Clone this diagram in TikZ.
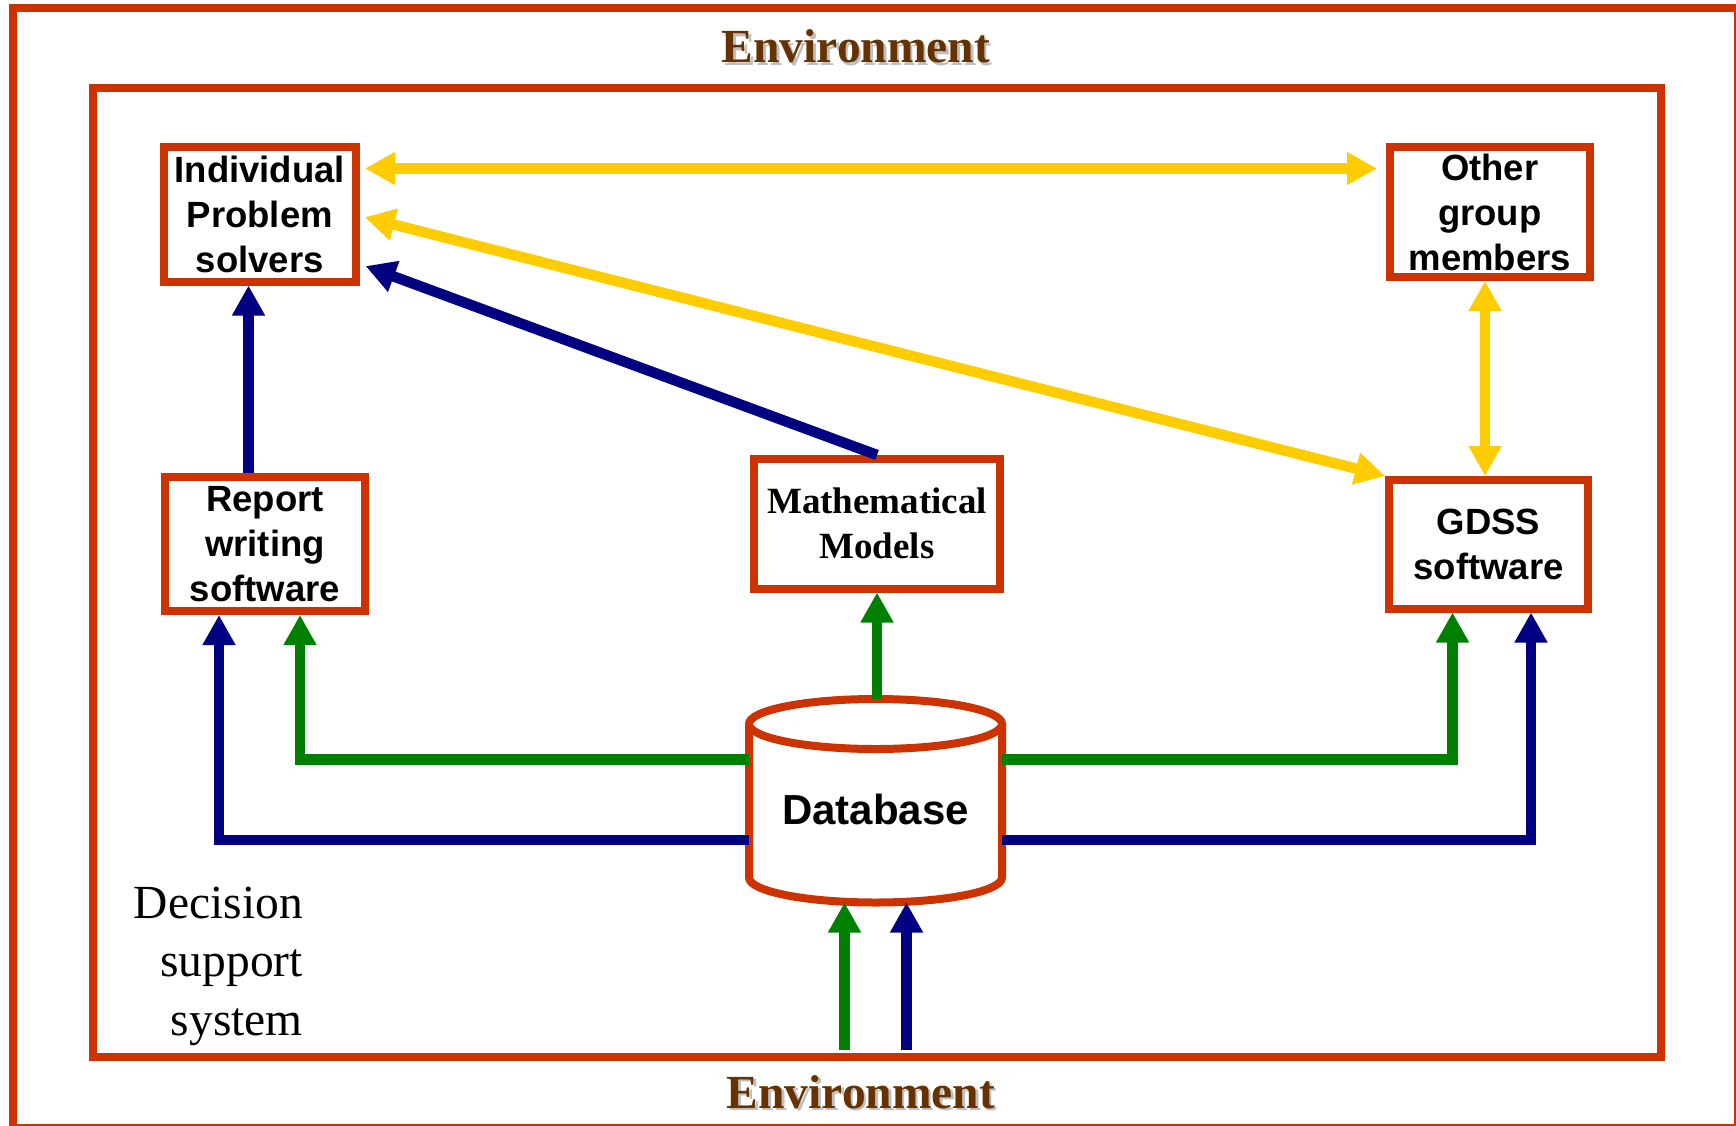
\documentclass[tikz,border=0pt]{standalone}
\usepackage{fontspec}
\setmainfont{Liberation Serif}
\setsansfont{Liberation Sans}
\usepackage{tikz}
\usetikzlibrary{arrows.meta,calc}

\definecolor{framered}{RGB}{204,51,0}
\definecolor{envbrown}{RGB}{102,51,0}
\definecolor{infoyellow}{RGB}{255,204,0}
\definecolor{datanavy}{RGB}{0,0,128}
\definecolor{datagreen}{RGB}{0,128,0}

\newcommand{\shadowed}[1]{% text with a grey drop shadow
  \makebox[0pt][l]{\hspace{2.5pt}\raisebox{-2.5pt}{\color{black!25}#1}}#1}

\tikzset{
  box/.style={draw=framered,line width=8pt,inner sep=0pt,align=center,
    font=\sffamily\bfseries\fontsize{36.5}{45}\selectfont},
  frame/.style={draw=framered,line width=8pt},
  envlabel/.style={text=envbrown,inner sep=0pt,font=\bfseries\fontsize{47.5}{50}\selectfont},
  yellowflow/.style={infoyellow,line width=10.5pt,<->},
  navyflow/.style={datanavy,line width=10.5pt,->},
  greenflow/.style={datagreen,line width=10.5pt,->},
}

\begin{document}
\begin{tikzpicture}[x=1pt,y=-1pt,>={Triangle[length=30pt,width=31pt]}]
\useasboundingbox (0,0) rectangle (1736,1126);

% Environment
\draw[frame] (12.5,8) rectangle (1738,1128);
\node[envlabel] (envtop) at (856,48) {\shadowed{Environment}};
\node[envlabel] (envbot) at (861,1093) {\shadowed{Environment}};

% Decision support system
\node[frame,outer sep=0pt,minimum width=1567.5pt,minimum height=968.5pt] (dss) at (876.75,572.75) {};
\node[anchor=east,inner sep=0pt,align=right,font=\fontsize{47.5}{58.5}\selectfont] (dsslabel) at (303,966) {Decision\\ support\\ system};

% People
\node[box,minimum width=192.5pt,minimum height=134.5pt] (ips) at (259.75,214.25) {Individual\\Problem\\solvers};
\node[box,minimum width=199.5pt,minimum height=129.5pt] (ogm) at (1489.75,212.25) {Other\\group\\members};

% Software and models
\node[box,minimum width=200pt,minimum height=134pt] (report) at (265,544) {Report\\writing\\software};
\node[box,font=\rmfamily\bfseries\fontsize{37}{45}\selectfont,minimum width=246pt,minimum height=129.5pt] (math) at (877,523.75) {Mathematical\\Models};
\node[box,minimum width=199pt,minimum height=128.5pt] (gdss) at (1488.5,544.25) {GDSS\\software};

% Database
\node[inner sep=0pt,outer sep=0pt,minimum width=253pt,minimum height=203.5pt,text height=46.5pt,text depth=0pt,
  font=\sffamily\bfseries\fontsize{42}{48}\selectfont] (db) at (875.5,800.75) {Database};
\draw[frame] ($(db.north west)+(0,25)$) -- ($(db.south west)+(0,-25)$)
  arc[start angle=180,end angle=360,x radius=126.5pt,y radius=25pt] -- ($(db.north east)+(0,25)$);
\draw[frame] ($(db.north)+(0,25)$) ellipse[x radius=126.5pt,y radius=25pt];

% Yellow links
\draw[yellowflow,shorten <=5pt,shorten >=9pt] (ips.east |- 0,168.5) -- (ogm.west |- 0,168.5);
\draw[yellowflow,shorten <=5pt] (ips.east |- 0,216) -- (gdss.north west);
\draw[yellowflow] (ogm.south -| 1485,0) -- (gdss.north -| 1485,0);

% Blue links to problem solvers
\draw[navyflow,shorten >=6pt] (math.north) -- (ips.east |- 0,264);
\draw[navyflow] (report.north -| 248.5,0) -- (ips.south -| 248.5,0);

% From the database
\draw[greenflow] (math.south |- db.north) -- (math.south);
\draw[greenflow] (db.west |- 0,759.5) -| (report.south -| 300,0);
\draw[navyflow] (db.west |- 0,840) -| (report.south -| 219,0);
\draw[greenflow] (db.east |- 0,759.5) -| (gdss.south -| 1452.5,0);
\draw[navyflow] (db.east |- 0,840) -| (gdss.south -| 1531,0);

% Into the database
\draw[greenflow,shorten <=7pt] (dss.south -| 844.5,0) -- (db.south -| 844.5,0);
\draw[navyflow,shorten <=7pt] (dss.south -| 906.5,0) -- (db.south -| 906.5,0);
\end{tikzpicture}
\end{document}
